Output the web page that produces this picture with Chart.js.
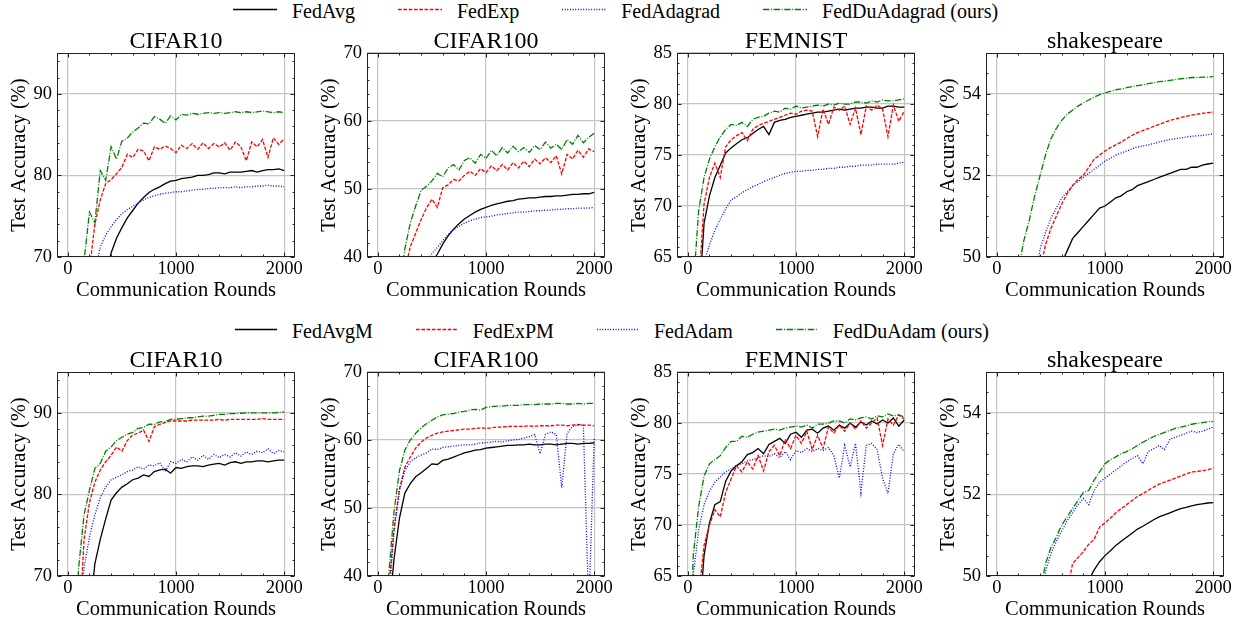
<!DOCTYPE html>
<html lang="en">
<head>
<meta charset="UTF-8" />
<title>Test accuracy vs communication rounds</title>
<style>
  body { margin: 0; width: 1247px; height: 626px; background: #fff; position: relative; overflow: hidden;
         font-family: "Liberation Serif", "Times New Roman", serif; color: #000; }
  canvas { position: absolute; }
  .legend { position: absolute; display: flex; white-space: nowrap; font-size: 20px; line-height: 20px; }
  .item { display: inline-flex; align-items: center; margin-right: 43px; }
  .item svg { margin-right: 15px; }
</style>
<script src="https://cdn.jsdelivr.net/npm/chart.js"></script>
</head>
<body>
<div class="legend" id="legendTop" style="top:1px;left:233px"></div>
<div class="legend" id="legendBottom" style="top:321px;left:235px"></div>

<canvas id="p0" width="305" height="277"></canvas>
<canvas id="p1" width="305" height="277"></canvas>
<canvas id="p2" width="305" height="277"></canvas>
<canvas id="p3" width="305" height="277"></canvas>
<canvas id="p4" width="305" height="277"></canvas>
<canvas id="p5" width="305" height="277"></canvas>
<canvas id="p6" width="305" height="277"></canvas>
<canvas id="p7" width="305" height="277"></canvas>

<script>
// ---- data (every 50 rounds) ----
const rounds = [0, 50, 100, 150, 200, 250, 300, 350, 400, 450,
  500, 550, 600, 650, 700, 750, 800, 850, 900, 950,
  1000, 1050, 1100, 1150, 1200, 1250, 1300, 1350, 1400, 1450,
  1500, 1550, 1600, 1650, 1700, 1750, 1800, 1850, 1900, 1950, 2000];

const datasetNames = ["CIFAR10", "CIFAR100", "FEMNIST", "shakespeare"];
const adaptiveNames = ["FedAvg", "FedExp", "FedAdagrad", "FedDuAdagrad (ours)"];
const momentumNames = ["FedAvgM", "FedExPM", "FedAdam", "FedDuAdam (ours)"];

const xTicks = [0, 1000, 2000];
const c10Ticks = [70, 80, 90];
const c100Ticks = [40, 50, 60, 70];
const femTicks = [65, 70, 75, 80, 85];
const shakTicks = [50, 52, 54];

// top row: FedAvg / FedExp / FedAdagrad / FedDuAdagrad
const c10FedAvg = [20, 30, 40, 48, 55, 60, 64, 67.5, 70.5, 72.3,
  73.6, 74.8, 75.7, 76.6, 77.3, 77.9, 78.3, 78.6, 79.0, 79.3,
  79.4, 79.6, 79.7, 79.8, 80.0, 80.0, 80.1, 80.3, 80.3, 80.2,
  80.4, 80.4, 80.4, 80.5, 80.6, 80.4, 80.6, 80.7, 80.7, 80.8, 80.6];
const c10FedExp = [25, 35, 48, 60, 68.5, 74, 77, 79, 79.5, 80.2,
  81, 82.6, 82.2, 83.2, 83, 81.8, 83.5, 83.2, 83.6, 83.3,
  82.8, 83.7, 83.3, 83.9, 83.2, 84, 83.3, 83.9, 83.5, 84,
  83.1, 84.1, 83.5, 81.8, 84.1, 83.5, 84.4, 82.2, 84.6, 83.8, 84.5];
const c10FedAdagrad = [30, 40, 50, 58, 63, 68, 71.2, 72.7, 73.7, 74.6,
  75.3, 75.8, 76.2, 76.6, 77.0, 77.3, 77.5, 77.7, 77.8, 77.9,
  78.0, 78.0, 78.1, 78.2, 78.3, 78.3, 78.4, 78.4, 78.5, 78.5,
  78.5, 78.6, 78.5, 78.6, 78.6, 78.7, 78.7, 78.8, 78.7, 78.7, 78.6];
const c10FedDuAdagrad = [30, 45, 60, 69.5, 75.5, 74.2, 80.6, 79.4, 83.5, 82.0,
  84.2, 84.6, 85.3, 85.8, 86.4, 86.3, 87.2, 86.9, 86.4, 87.3,
  86.8, 87.5, 87.4, 87.6, 87.5, 87.6, 87.7, 87.6, 87.7, 87.6,
  87.7, 87.8, 87.7, 87.8, 87.7, 87.8, 87.9, 87.8, 87.7, 87.8, 87.7];

const c100FedAvg = [10, 15, 20, 25, 29, 32, 34, 35.5, 37, 38.3,
  39.3, 40.4, 41.9, 43.1, 44.1, 44.9, 45.6, 46.1, 46.6, 47.0,
  47.3, 47.6, 47.8, 48.0, 48.2, 48.3, 48.5, 48.6, 48.7, 48.7,
  48.8, 48.9, 48.9, 49.0, 49.0, 49.1, 49.2, 49.2, 49.3, 49.3, 49.5];
const c100FedExp = [10, 15, 20, 26, 32, 38, 41.5, 43.5, 45.5, 47.2,
  48.5, 47.3, 50.2, 50.6, 51.4, 51.2, 52.0, 52.6, 52.0, 53.0,
  52.4, 53.4, 52.7, 53.6, 52.8, 53.9, 53.1, 54.1, 53.3, 54.4,
  53.7, 54.6, 53.9, 54.9, 52.2, 55.1, 54.4, 55.7, 54.7, 55.9, 55.5];
const c100FedAdagrad = [10, 15, 20, 24, 28, 31, 33.5, 35.5, 37.5, 39.3,
  40.5, 41.4, 42.4, 43.3, 44.0, 44.5, 45.0, 45.3, 45.6, 45.8,
  45.9, 46.0, 46.2, 46.3, 46.4, 46.5, 46.6, 46.6, 46.7, 46.8,
  46.8, 46.9, 46.9, 47.0, 47.0, 47.1, 47.1, 47.2, 47.2, 47.2, 47.3];
const c100FedDuAdagrad = [10, 15, 21, 28, 35, 41.2, 45, 47.5, 49.8, 50.4,
  51.2, 52.3, 51.8, 53.1, 53.6, 52.8, 54.2, 54.6, 53.8, 55.1,
  54.5, 55.7, 54.9, 56.1, 55.3, 56.3, 55.5, 56.1, 55.4, 56.4,
  55.8, 56.9, 56.0, 56.6, 55.8, 57.3, 56.6, 57.9, 56.8, 57.6, 58.2];

const femFedAvg = [30, 45, 60, 68.3, 71, 72.8, 74.0, 75.2, 75.7, 76.1,
  76.5, 76.7, 77.1, 77.5, 77.8, 77.0, 78.2, 78.4, 78.5, 78.7,
  78.8, 78.9, 79.0, 79.1, 79.2, 79.2, 79.3, 79.4, 79.5, 79.4,
  79.5, 79.6, 79.6, 79.7, 79.7, 79.6, 79.6, 79.8, 79.8, 79.7, 79.7];
const femFedExp = [30, 45, 62, 70.2, 72.8, 74.2, 72.8, 75.8, 76.5, 76.9,
  77.2, 76.4, 77.5, 77.9, 78.1, 78.3, 78.5, 78.7, 78.9, 79.1,
  79.0, 79.3, 79.4, 79.3, 76.8, 79.5, 78.0, 79.7, 79.4, 79.8,
  78.0, 79.6, 77.0, 79.8, 79.4, 79.9, 79.5, 76.8, 79.9, 78.3, 79.3];
const femFedAdagrad = [30, 45, 55, 64.5, 66.2, 67.6, 68.7, 69.7, 70.6, 70.9,
  71.3, 71.6, 71.9, 72.1, 72.4, 72.6, 72.8, 73.0, 73.2, 73.3,
  73.4, 73.4, 73.5, 73.5, 73.6, 73.6, 73.7, 73.7, 73.8, 73.8,
  73.9, 73.9, 74.0, 74.0, 74.0, 74.1, 74.1, 74.1, 74.1, 74.2, 74.3];
const femFedDuAdagrad = [40, 62, 69.5, 72.8, 74.6, 75.8, 76.8, 77.5, 78.0, 77.9,
  78.2, 77.8, 78.5, 78.7, 78.8, 79.1, 79.3, 79.2, 79.6, 79.5,
  79.8, 79.6, 79.7, 79.8, 79.9, 79.8, 80.0, 79.9, 80.1, 80.0,
  80.0, 80.2, 80.2, 80.1, 80.3, 80.2, 80.4, 80.3, 80.3, 80.4, 80.5];

const shakFedAvg = [40, 42, 43.5, 44.5, 45.5, 46.3, 47, 47.6, 48.1, 48.6,
  49, 49.4, 49.85, 50.15, 50.45, 50.6, 50.75, 50.9, 51.05, 51.2,
  51.25, 51.35, 51.45, 51.5, 51.6, 51.65, 51.75, 51.8, 51.85, 51.9,
  51.95, 52.0, 52.05, 52.1, 52.15, 52.15, 52.2, 52.2, 52.25, 52.28, 52.3];
const shakFedExp = [40, 42, 43.5, 44.8, 45.8, 46.7, 47.6, 48.5, 49.7, 50.3,
  50.7, 51.0, 51.3, 51.55, 51.75, 51.9, 52.0, 52.2, 52.4, 52.5,
  52.6, 52.68, 52.75, 52.82, 52.9, 52.98, 53.05, 53.1, 53.15, 53.2,
  53.25, 53.3, 53.35, 53.38, 53.42, 53.45, 53.48, 53.5, 53.52, 53.54, 53.55];
const shakFedAdagrad = [40, 42, 43.5, 44.8, 46, 47, 48, 49.3, 50.2, 50.6,
  50.95, 51.2, 51.45, 51.6, 51.75, 51.85, 51.95, 52.05, 52.15, 52.25,
  52.35, 52.42, 52.5, 52.55, 52.6, 52.65, 52.7, 52.72, 52.75, 52.78,
  52.82, 52.85, 52.88, 52.9, 52.92, 52.94, 52.96, 52.97, 52.98, 53.0, 53.02];
const shakFedDuAdagrad = [40, 43, 45.5, 47.8, 49.7, 50.4, 50.9, 51.5, 52.0, 52.5,
  52.9, 53.15, 53.35, 53.5, 53.6, 53.7, 53.78, 53.85, 53.92, 53.98,
  54.02, 54.06, 54.1, 54.12, 54.15, 54.18, 54.2, 54.22, 54.25, 54.27,
  54.3, 54.31, 54.33, 54.35, 54.37, 54.38, 54.4, 54.4, 54.41, 54.41, 54.42];

// bottom row: FedAvgM / FedExPM / FedAdam / FedDuAdam
const c10FedAvgM = [20, 30, 40, 52, 65, 71.5, 74.5, 77, 79.3, 80.2,
  80.9, 81.3, 81.8, 82.0, 82.4, 82.2, 82.8, 83.0, 83.1, 82.6,
  83.3, 83.2, 83.4, 83.5, 83.5, 83.4, 83.6, 83.7, 83.8, 83.6,
  83.9, 84.0, 83.8, 84.0, 84.0, 84.1, 84.1, 84.0, 84.1, 84.2, 84.2];
const c10FedExPM = [20, 35, 62, 74.5, 79, 81.5, 83, 84, 84.8, 85.8,
  85.3, 86.6, 87.3, 87.5, 87.9, 86.5, 88.3, 88.6, 88.8, 89.0,
  89.0, 89.0, 89.0, 89.1, 89.1, 89.1, 89.1, 89.1, 89.2, 89.1,
  89.2, 89.2, 89.2, 89.2, 89.2, 89.2, 89.3, 89.2, 89.2, 89.2, 89.2];
const c10FedAdam = [20, 40, 62, 71, 74.8, 77.5, 79.6, 80.9, 81.8, 82.1,
  82.4, 82.8, 83.0, 83.4, 83.1, 83.6, 83.5, 83.9, 82.8, 84.0,
  83.8, 84.3, 84.0, 84.6, 84.2, 84.8, 84.3, 84.9, 84.5, 84.9,
  84.6, 85.1, 84.7, 85.2, 84.9, 85.3, 85.1, 85.6, 85.0, 85.4, 85.2];
const c10FedDuAdam = [40, 58, 71, 77.5, 80.5, 83.2, 83.8, 85.3, 85.8, 86.6,
  87.0, 87.4, 87.6, 88.1, 88.2, 88.6, 88.6, 88.9, 88.9, 89.2,
  89.2, 89.3, 89.4, 89.4, 89.5, 89.6, 89.6, 89.7, 89.8, 89.8,
  89.9, 89.9, 89.95, 90.0, 90.0, 90.0, 90.0, 90.0, 90.0, 90.05, 90.1];

const c100FedAvgM = [10, 20, 34, 42.5, 48.5, 52.2, 53.6, 54.6, 55.2, 55.8,
  56.5, 56.4, 57.0, 57.2, 57.5, 57.8, 58.1, 58.3, 58.5, 58.6,
  58.8, 58.9, 59.0, 59.1, 59.2, 59.2, 59.3, 59.3, 59.4, 59.3,
  59.3, 59.4, 59.4, 59.3, 59.4, 59.5, 59.5, 59.4, 59.5, 59.5, 59.6];
const c100FedExPM = [10, 20, 38, 47, 52.8, 56, 57.5, 58.8, 59.7, 60.3,
  60.7, 61.0, 61.2, 61.3, 61.4, 61.5, 61.6, 61.6, 61.7, 61.8,
  61.7, 61.8, 61.9, 61.9, 62.0, 62.0, 62.0, 62.0, 62.1, 62.0,
  62.1, 62.1, 62.1, 62.2, 62.2, 62.1, 62.2, 62.3, 62.2, 62.2, 62.1];
const c100FedAdam = [10, 20, 36, 46.5, 52.5, 55.5, 56.8, 57.4, 57.8, 58.1,
  58.7, 58.6, 58.9, 59.0, 59.1, 59.2, 59.3, 59.3, 59.4, 59.6,
  59.6, 59.7, 59.8, 59.7, 59.9, 60.0, 60.1, 60.3, 60.5, 60.8,
  58.0, 60.8, 61.2, 60.8, 53.0, 61.0, 62.0, 62.2, 62.2, 35, 60.3];
const c100FedDuAdam = [10, 25, 40, 49.5, 55.5, 58.5, 60.0, 61.0, 61.8, 62.4,
  62.9, 63.4, 63.7, 63.8, 63.9, 64.1, 64.2, 64.4, 64.5, 64.4,
  64.8, 64.9, 65.0, 65.0, 65.1, 65.1, 65.1, 65.2, 65.2, 65.2,
  65.3, 65.3, 65.3, 65.4, 65.4, 65.3, 65.3, 65.4, 65.3, 65.4, 65.4];

const femFedAvgM = [30, 45, 60, 67, 70.2, 72.0, 72.3, 74.3, 75.3, 75.8,
  76.2, 76.9, 77.1, 77.5, 77.0, 77.9, 78.2, 78.5, 78.0, 78.9,
  79.1, 78.6, 79.3, 79.4, 79.0, 79.5, 79.7, 79.3, 79.8, 79.5,
  80.0, 79.6, 80.1, 79.8, 80.2, 79.9, 80.3, 80.0, 80.5, 79.7, 80.3];
const femFedExPM = [30, 45, 63, 68, 70, 71.5, 70.8, 73.2, 74.5, 75.8,
  75.2, 76.2, 75.5, 76.8, 75.3, 77.2, 77.8, 76.8, 78.4, 77.5,
  78.8, 78.0, 79.2, 77.4, 78.8, 77.5, 79.6, 79.0, 79.8, 79.2,
  80.0, 79.4, 80.2, 79.5, 80.0, 80.5, 77.8, 80.4, 79.8, 80.8, 80.4];
const femFedAdam = [55, 65, 69.5, 72.0, 73.3, 74.2, 74.7, 75.2, 75.5, 75.9,
  76.0, 76.3, 76.4, 76.6, 76.8, 76.7, 77.0, 76.6, 77.2, 76.4,
  77.3, 77.1, 77.5, 77.2, 77.5, 77.3, 77.6, 76.8, 74.6, 77.8,
  75.7, 78.0, 73.2, 77.8, 78.0, 77.4, 74.6, 73.1, 77.0, 77.9, 77.2];
const femFedDuAdam = [50, 67, 71.8, 74.8, 76.0, 76.4, 76.8, 77.6, 78.2, 78.2,
  78.7, 78.6, 78.9, 79.1, 79.2, 79.3, 79.4, 79.3, 79.5, 79.6,
  79.7, 79.6, 79.8, 79.5, 79.9, 79.9, 80.0, 80.2, 80.2, 80.0,
  80.4, 80.3, 80.5, 80.6, 80.4, 80.7, 80.6, 80.9, 80.7, 80.8, 80.6];

const shakFedAvgM = [40, 41, 42, 43, 44, 44.8, 45.5, 46.1, 46.6, 47.1,
  47.5, 47.9, 48.3, 48.7, 49.0, 49.3, 49.6, 49.9, 50.15, 50.35,
  50.5, 50.62, 50.75, 50.85, 50.95, 51.05, 51.15, 51.22, 51.3, 51.38,
  51.45, 51.5, 51.55, 51.6, 51.65, 51.68, 51.72, 51.75, 51.77, 51.79, 51.8];
const shakFedExPM = [40, 41, 42, 43, 44, 45, 45.8, 46.6, 47.3, 48,
  48.5, 49, 49.3, 49.6, 50.3, 50.45, 50.6, 50.78, 50.9, 51.2,
  51.3, 51.42, 51.55, 51.65, 51.75, 51.85, 51.95, 52.02, 52.1, 52.18,
  52.25, 52.3, 52.35, 52.4, 52.45, 52.5, 52.55, 52.56, 52.58, 52.6, 52.65];
const shakFedAdam = [40, 41.5, 43, 44.3, 45.5, 46.5, 47.4, 48.3, 49.2, 50.1,
  50.55, 50.85, 51.1, 51.35, 51.55, 51.75, 51.9, 51.75, 52.1, 52.3,
  52.4, 52.5, 52.6, 52.7, 52.8, 52.88, 52.95, 52.75, 53.05, 53.12,
  53.2, 53.1, 53.35, 53.4, 53.45, 53.5, 53.55, 53.52, 53.55, 53.6, 53.65];
const shakFedDuAdam = [40, 41.5, 43, 44.3, 45.5, 46.5, 47.5, 48.5, 49.6, 50.3,
  50.7, 50.95, 51.25, 51.45, 51.65, 51.85, 52.05, 52.1, 52.35, 52.55,
  52.75, 52.85, 52.92, 53.0, 53.05, 53.12, 53.2, 53.28, 53.35, 53.42,
  53.47, 53.52, 53.57, 53.62, 53.65, 53.68, 53.72, 53.74, 53.76, 53.78, 53.79];

// ---- styling / layout ----
const serif = "'Liberation Serif', 'Times New Roman', serif";
Chart.defaults.font.family = serif;
Chart.defaults.color = "#000";

const lineStyles = [
  { color: "#000000", dash: [] },
  { color: "#ff0000", dash: [3.7, 1.6] },
  { color: "#0000ff", dash: [1, 1.65] },
  { color: "#008000", dash: [6.4, 1.6, 1, 1.6] }
];

const panels = [
  { id: "p0", left: 0,   top: 30,  title: datasetNames[0], range: [70, 95], ticks: c10Ticks,  minor: 2,   names: adaptiveNames, series: [c10FedAvg, c10FedExp, c10FedAdagrad, c10FedDuAdagrad] },
  { id: "p1", left: 310, top: 30,  title: datasetNames[1], range: [40, 70], ticks: c100Ticks, minor: 2,   names: adaptiveNames, series: [c100FedAvg, c100FedExp, c100FedAdagrad, c100FedDuAdagrad] },
  { id: "p2", left: 620, top: 30,  title: datasetNames[2], range: [65, 85], ticks: femTicks,  minor: 1,   names: adaptiveNames, series: [femFedAvg, femFedExp, femFedAdagrad, femFedDuAdagrad] },
  { id: "p3", left: 929, top: 30,  title: datasetNames[3], range: [50, 55], ticks: shakTicks, minor: 0.5, names: adaptiveNames, series: [shakFedAvg, shakFedExp, shakFedAdagrad, shakFedDuAdagrad] },
  { id: "p4", left: 0,   top: 349, title: datasetNames[0], range: [70, 95], ticks: c10Ticks,  minor: 2,   names: momentumNames, series: [c10FedAvgM, c10FedExPM, c10FedAdam, c10FedDuAdam] },
  { id: "p5", left: 310, top: 349, title: datasetNames[1], range: [40, 70], ticks: c100Ticks, minor: 2,   names: momentumNames, series: [c100FedAvgM, c100FedExPM, c100FedAdam, c100FedDuAdam] },
  { id: "p6", left: 620, top: 349, title: datasetNames[2], range: [65, 85], ticks: femTicks,  minor: 1,   names: momentumNames, series: [femFedAvgM, femFedExPM, femFedAdam, femFedDuAdam] },
  { id: "p7", left: 929, top: 349, title: datasetNames[3], range: [50, 55], ticks: shakTicks, minor: 0.5, names: momentumNames, series: [shakFedAvgM, shakFedExPM, shakFedAdam, shakFedDuAdam] }
];

// black frame with inward major/minor ticks on all four sides
const framePlugin = {
  id: "frame",
  afterDatasetsDraw(chart, args, opts) {
    const { ctx, chartArea: a, scales: { x, y } } = chart;
    const L = Math.round(a.left) + 0.5, R = Math.round(a.right) - 0.5;
    const T = Math.round(a.top) + 0.5, B = Math.round(a.bottom) - 0.5;
    ctx.save();
    ctx.strokeStyle = "#222";
    ctx.lineWidth = 1;
    ctx.setLineDash([]);
    ctx.strokeRect(L, T, R - L, B - T);
    ctx.beginPath();
    const xMaj = opts.xMajor, yMaj = opts.yMajor;
    for (let v = 0; v <= x.max; v += opts.xMinor) {
      const len = xMaj.includes(v) ? 4 : 2;
      const px = Math.round(x.getPixelForValue(v)) + 0.5;
      ctx.moveTo(px, B); ctx.lineTo(px, B - len);
      ctx.moveTo(px, T); ctx.lineTo(px, T + len);
    }
    for (let v = y.min; v <= y.max + 1e-9; v += opts.yMinor) {
      const vv = Math.round(v * 100) / 100;
      const len = yMaj.includes(vv) ? 4 : 2;
      const py = Math.round(y.getPixelForValue(vv)) + 0.5;
      ctx.moveTo(L, py); ctx.lineTo(L + len, py);
      ctx.moveTo(R, py); ctx.lineTo(R - len, py);
    }
    ctx.stroke();
    ctx.restore();
  }
};

function makePanel(p) {
  const canvas = document.getElementById(p.id);
  canvas.style.left = p.left + "px";
  canvas.style.top = p.top + "px";
  const datasets = p.series.map((vals, i) => ({
    label: p.names[i],
    data: rounds.map((r, k) => ({ x: r, y: vals[k] })),
    borderColor: lineStyles[i].color,
    borderDash: lineStyles[i].dash,
    borderWidth: 1.3,
    pointRadius: 0,
    tension: 0,
    fill: false,
    order: 4 - i
  }));
  new Chart(canvas, {
    type: "line",
    data: { datasets },
    plugins: [framePlugin],
    options: {
      responsive: false,
      animation: false,
      devicePixelRatio: 1,
      layout: { padding: { top: 0, right: 10, bottom: 4, left: 0 } },
      plugins: {
        legend: { display: false },
        tooltip: { enabled: false },
        title: {
          display: true, fullSize: false, text: p.title, color: "#000",
          font: { size: 24, weight: "normal", family: serif, lineHeight: 0.96 },
          padding: { top: 0, bottom: 0 }
        },
        frame: { xMajor: xTicks, yMajor: p.ticks, xMinor: 200, yMinor: p.minor }
      },
      scales: {
        x: {
          type: "linear", min: -100, max: 2100,
          afterBuildTicks: s => { s.ticks = xTicks.map(v => ({ value: v })); },
          afterFit: s => { s.height = 46; s.paddingLeft = 0; s.paddingRight = 0; },
          ticks: { font: { size: 18.5 }, color: "#000", padding: 1.5, maxRotation: 0, autoSkip: false,
                   callback: v => String(v) },
          grid: { color: "#c4c4c4", lineWidth: 1.2, drawTicks: false },
          border: { display: false },
          title: { display: true, text: "Communication Rounds", color: "#000",
                   font: { size: 20.5, lineHeight: 1.2 }, padding: { top: 0, bottom: 0 } }
        },
        y: {
          min: p.range[0], max: p.range[1],
          afterBuildTicks: s => { s.ticks = p.ticks.map(v => ({ value: v })); },
          afterFit: s => { s.width = 57; s.paddingTop = 0; s.paddingBottom = 0; },
          ticks: { font: { size: 18.5 }, color: "#000", padding: 5, callback: v => String(v) },
          grid: { color: "#c4c4c4", lineWidth: 1.2, drawTicks: false },
          border: { display: false },
          title: { display: true, text: "Test Accuracy (%)", color: "#000",
                   font: { size: 20.5, lineHeight: 1.2 }, padding: { top: 7, bottom: 0 } }
        }
      }
    }
  });
}

function buildLegend(el, names, keyWidth) {
  names.forEach((name, i) => {
    const item = document.createElement("span");
    item.className = "item";
    const dash = lineStyles[i].dash.length ? lineStyles[i].dash.join(" ") : "none";
    item.innerHTML = '<svg width="' + keyWidth + '" height="20"><line x1="0" y1="8.5" x2="' + keyWidth +
      '" y2="8.5" stroke="' + lineStyles[i].color + '" stroke-width="1.3" stroke-dasharray="' + dash +
      '"/></svg><span>' + name + "</span>";
    el.appendChild(item);
  });
}

buildLegend(document.getElementById("legendTop"), adaptiveNames, 44);
buildLegend(document.getElementById("legendBottom"), momentumNames, 42);
panels.forEach(makePanel);
</script>
</body>
</html>
